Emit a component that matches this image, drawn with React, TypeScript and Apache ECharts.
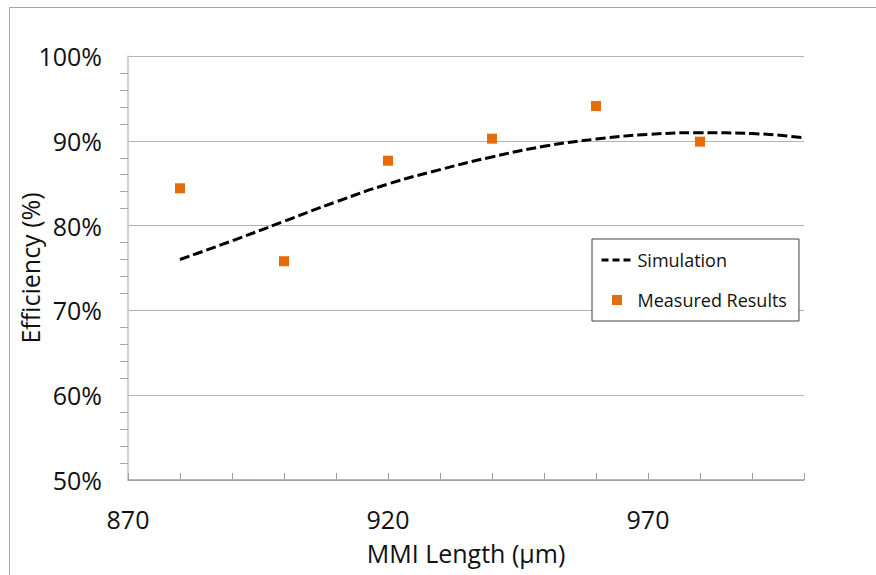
import React, { useEffect, useRef } from "react";
import * as echarts from "echarts";

const simX = [880, 890, 900, 910, 920, 930, 940, 950, 960, 970, 980, 990, 1000];
const simY = [76.0, 78.2, 80.5, 82.8, 84.9, 86.6, 88.1, 89.35, 90.2, 90.75, 90.95, 90.85, 90.35];
const measX = [880, 900, 920, 940, 960, 980];
const measY = [84.4, 75.8, 87.65, 90.25, 94.1, 89.9];
const xLabelTicks = [870, 920, 970];

const FONT = "Open Sans";

export default function App() {
  const ref = useRef<HTMLDivElement>(null);
  useEffect(() => {
    if (!ref.current) return;
    const chart = echarts.init(ref.current, null, { renderer: "svg" });
    chart.setOption({
      animation: false,
      backgroundColor: "#ffffff",
      textStyle: { fontFamily: FONT },
      graphic: [
        {
          type: "rect",
          shape: { x: 9.5, y: 7.5, width: 900, height: 700 },
          style: { fill: "none", stroke: "#a6a6a6", lineWidth: 1 },
          silent: true,
          z: -10,
        },
      ],
      grid: {
        left: 128,
        right: 72,
        top: 56,
        bottom: 95,
        containLabel: false,
        outerBoundsMode: "none",
      },
      legend: {
        orient: "vertical",
        left: 592,
        top: 239,
        padding: [12, 12, 12, 8],
        itemGap: 22,
        itemWidth: 31,
        itemHeight: 10,
        backgroundColor: "#ffffff",
        borderColor: "#404040",
        borderWidth: 1,
        borderRadius: 0,
        symbolKeepAspect: true,
        textStyle: { fontFamily: FONT, fontSize: 18, color: "#111111" },
        data: [
          {
            name: "Simulation",
            itemStyle: { opacity: 0 },
            lineStyle: { color: "#000000", width: 3, type: [7, 4] },
          },
          { name: "Measured Results", icon: "path://M0,0L10,0L10,10L0,10Z" },
        ],
      },
      xAxis: {
        type: "value",
        min: 870,
        max: 1000,
        interval: 10,
        name: "MMI Length (µm)",
        nameLocation: "middle",
        nameGap: 60,
        nameMoveOverlap: false,
        nameTextStyle: { fontFamily: FONT, fontSize: 25, color: "#111111" },
        axisLine: { lineStyle: { color: "#a0a0a0", width: 1.5 } },
        axisTick: { show: true, inside: true, length: 7, lineStyle: { color: "#a0a0a0" } },
        splitLine: { show: false },
        axisLabel: {
          margin: 26,
          fontFamily: FONT,
          fontSize: 25,
          color: "#111111",
          formatter: (v: number) => (xLabelTicks.includes(v) ? String(v) : ""),
        },
      },
      yAxis: {
        type: "value",
        min: 50,
        max: 100,
        interval: 10,
        name: "Efficiency (%)",
        nameLocation: "middle",
        nameGap: 86,
        nameMoveOverlap: false,
        nameTextStyle: { fontFamily: FONT, fontSize: 25, color: "#111111" },
        axisLine: { show: true, lineStyle: { color: "#c0c0c0", width: 1.5 } },
        axisTick: { show: false },
        minorTick: { show: true, splitNumber: 5, length: 8, lineStyle: { color: "#a6a6a6" } },
        splitLine: { show: true, lineStyle: { color: "#b3b3b3", width: 1 } },
        axisLabel: {
          margin: 26,
          fontFamily: FONT,
          fontSize: 25,
          color: "#111111",
          formatter: (v: number) => v + "%",
        },
      },
      series: [
        {
          name: "Simulation",
          type: "line",
          data: simX.map((x, i) => [x, simY[i]]),
          smooth: true,
          symbol: "none",
          showSymbol: false,
          lineStyle: { color: "#000000", width: 3, type: [10, 4] },
          itemStyle: { color: "#000000" },
          z: 3,
        },
        {
          name: "Measured Results",
          type: "scatter",
          data: measX.map((x, i) => [x, measY[i]]),
          symbol: "rect",
          symbolSize: 10,
          itemStyle: { color: "#e46c0a", opacity: 1 },
          z: 4,
        },
      ],
    });
    return () => chart.dispose();
  }, []);
  return (
    <div
      ref={ref}
      style={{ position: "fixed", left: 0, top: 0, width: 876, height: 575 }}
    />
  );
}
